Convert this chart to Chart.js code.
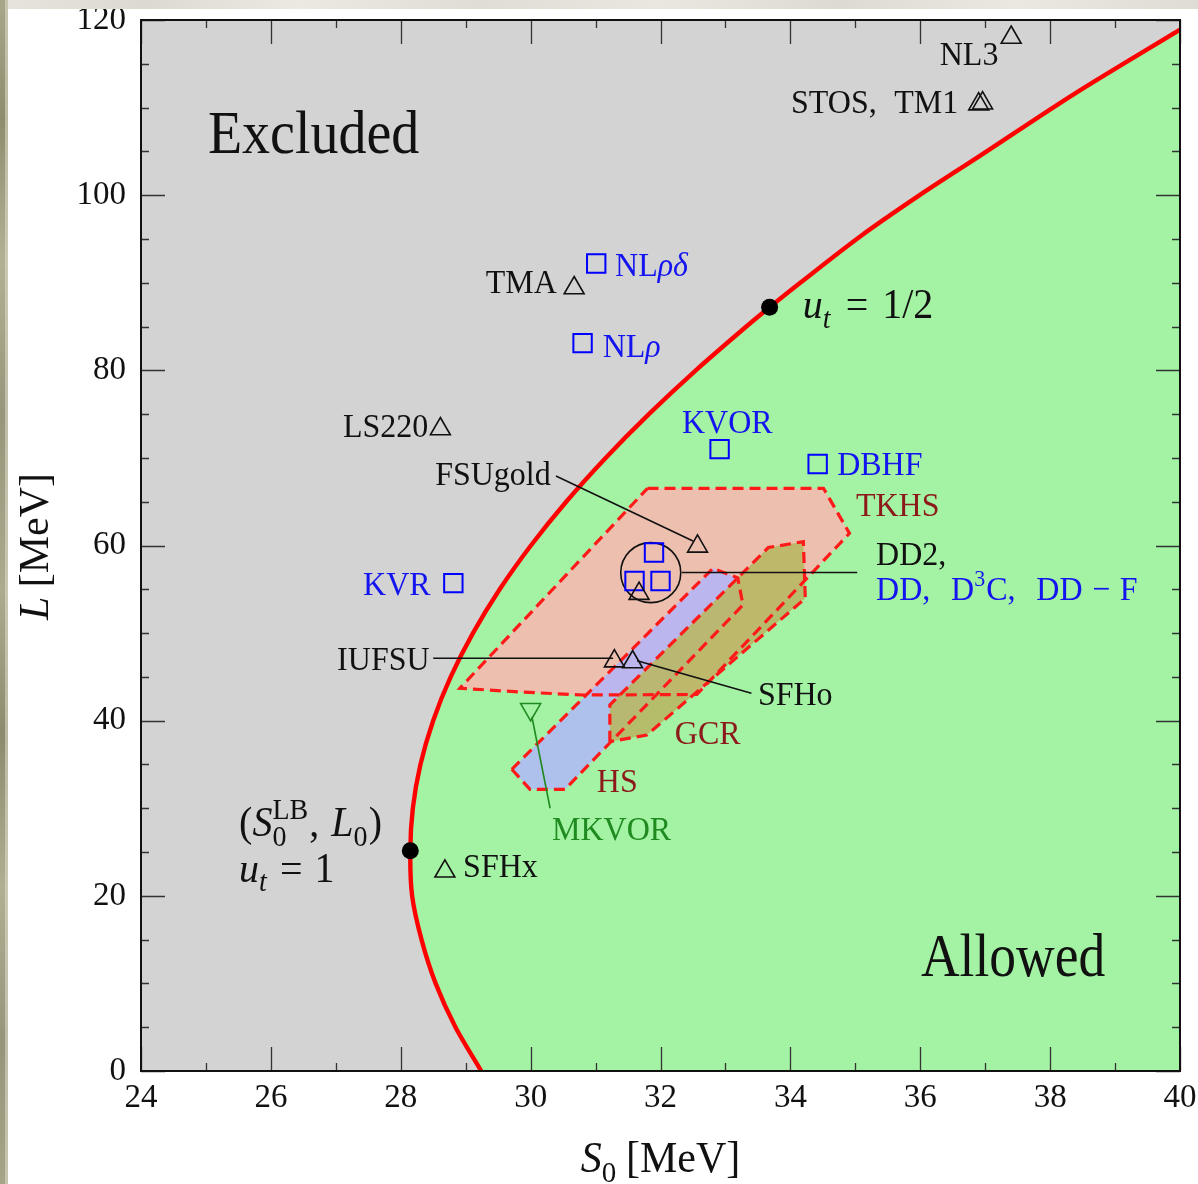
<!DOCTYPE html>
<html>
<head>
<meta charset="utf-8">
<script src="https://cdn.jsdelivr.net/npm/chart.js@4.4.0/dist/chart.umd.min.js"></script>
<style>
html,body{margin:0;padding:0;background:#fff;}
#wrap{position:relative;width:1198px;height:1184px;overflow:hidden;background:#fff;}
#c{position:absolute;left:0;top:0;}
#bt{position:absolute;left:0;top:0;width:1198px;height:9px;
 background:linear-gradient(90deg,#e6e4dc 0%,#dcdad0 12%,#ebe9e2 25%,#dfddd4 40%,#e9e7df 55%,#dddbd1 70%,#eae8e1 85%,#dedcd3 100%);}
#bl{position:absolute;left:0;top:0;width:8px;height:1184px;
 background:linear-gradient(180deg,#a9a78a 0%,#8f8d6e 10%,#b3b195 22%,#97957a 35%,#adab8f 50%,#8d8b6d 62%,#b1af93 75%,#96947a 88%,#a7a588 100%);}
#bl2{position:absolute;left:5px;top:0;width:3px;height:1184px;background:rgba(225,222,205,0.55);}
</style>
</head>
<body>
<div id="wrap">
<canvas id="c" width="1198" height="1184"></canvas>
<div id="bt"></div><div id="bl"></div><div id="bl2"></div>
</div>
<script>
// ---------------- data ----------------
const xTickValues = [24, 26, 28, 30, 32, 34, 36, 38, 40];
const yTickValues = [0, 20, 40, 60, 80, 100, 120];
const xTickLabels = ['24','26','28','30','32','34','36','38','40'];
const yTickLabels = ['0','20','40','60','80','100','120'];

// unitary-gas bound: boundary of the excluded region
const boundaryS0 = [29.24, 28.843, 28.537, 28.320, 28.175, 28.147, 28.186, 28.303, 28.499, 28.769, 29.112, 29.524, 30.004, 30.548, 31.155, 31.821, 32.544, 33.322, 33.680, 34.152, 35.070, 35.990, 36.900, 38.380, 40.000];
const boundaryL  = [0,     5,      10,     15,     20,     25.15,  30,     35,     40,     45,     50,     55,     60,     65,     70,     75,     80,     85,     87.2,   90,     95.26,  100,    104.4,  111.6,  118.9];

// constraint regions
const tkhsS0 = [31.80, 34.51, 34.91, 32.56, 30.81, 29.84, 28.91, 31.80];
const tkhsL  = [66.53, 66.53, 61.39, 42.99, 42.93, 43.27, 43.70, 66.53];
const hsS0   = [29.71, 29.99, 30.53, 33.27, 33.19, 32.81, 29.71];
const hsL    = [34.45, 32.16, 32.16, 53.21, 56.29, 57.40, 34.45];
const gcrS0  = [31.22, 31.22, 33.66, 34.20, 34.23, 31.79, 31.22];
const gcrL   = [37.60, 41.79, 59.77, 60.44, 53.97, 38.36, 37.60];

// models
const triNames = ['NL3','STOS','TM1','TMA','LS220','FSUgold','DD2','IUFSU','SFHo','SFHx'];
const triS0 = [37.40, 36.90, 36.96, 30.67, 28.61, 32.57, 31.67, 31.29, 31.57, 28.68];
const triL  = [118.0, 110.4, 110.5, 89.4,  73.3,  59.9,  54.5,  46.8,  46.7,  22.8];
const sqNames = ['NLρδ','NLρ','KVOR','DBHF','KVR','DD','D3C','DD-F'];
const sqS0 = [31.01, 30.80, 32.91, 34.42, 28.81, 31.90, 31.60, 32.00];
const sqL  = [92.2,  83.1,  71.0,  69.3,  55.7,  59.2,  55.95, 55.95];
const mkvorS0 = [30.0];
const mkvorL  = [41.3];
const utS0 = [28.147, 33.68];    // u_t = 1, u_t = 1/2
const utL  = [25.15, 87.2];
const groupS0 = [31.85];         // circled DD2/DD/D3C/DD-F group
const groupL  = [56.9];

// leader lines
const leadFSUs = [30.39, 32.50], leadFSUl = [67.94, 60.52];
const leadDDs  = [32.33, 35.03], leadDDl  = [56.92, 56.92];
const leadIUs  = [28.50, 31.27], leadIUl  = [47.12, 47.12];
const leadSFs  = [31.64, 33.40], leadSFl  = [46.85, 43.13];
const leadMKs  = [30.02, 30.30], leadMKl  = [40.45, 30.0];

// ---------------- styling ----------------
const FAMILY = "'Liberation Serif','Times New Roman',serif";
const BLUE = '#1414f0', DRED = '#8c1a1a', GREEN = '#1f8a1f';
const pts = (xs, ys) => xs.map((v, i) => ({x: v, y: ys[i]}));

const annotations = [
 {s:25.03, l:104.8, size:56, segs:[{t:'Excluded'}]},
 {s:36.01, l:10.85, size:53.5, st:1.13, segs:[{t:'Allowed'}]},
 {s:36.30, l:114.9, segs:[{t:'NL3'}]},
 {s:34.01, l:109.4, segs:[{t:'STOS,'},{gap:0.55},{t:'TM1'}]},
 {s:29.31, l:88.8,  segs:[{t:'TMA'}]},
 {s:31.30, l:90.8,  c:BLUE, segs:[{t:'NL'},{t:'ρδ',i:true}]},
 {s:31.11, l:81.5,  c:BLUE, segs:[{t:'NL'},{t:'ρ',i:true}]},
 {s:32.33, l:72.85, c:BLUE, segs:[{t:'KVOR'}]},
 {s:34.72, l:68.05, c:BLUE, segs:[{t:'DBHF'}]},
 {s:35.01, l:63.4,  c:DRED, segs:[{t:'TKHS'}]},
 {s:35.32, l:57.8,  segs:[{t:'DD2,'}]},
 {s:35.32, l:53.8,  c:BLUE, segs:[{t:'DD,'},{gap:0.65},{t:'D'},{sup:'3'},{t:'C,'},{gap:0.65},{t:'DD'},{gap:0.3},{t:'−'},{gap:0.3},{t:'F'}]},
 {s:27.11, l:72.4,  segs:[{t:'LS220'}]},
 {s:28.53, l:66.9,  segs:[{t:'FSUgold'}]},
 {s:27.42, l:54.35, c:BLUE, segs:[{t:'KVR'}]},
 {s:27.02, l:45.8,  segs:[{t:'IUFSU'}]},
 {s:33.50, l:41.8,  segs:[{t:'SFHo'}]},
 {s:32.22, l:37.3,  c:DRED, segs:[{t:'GCR'}]},
 {s:31.02, l:31.9,  c:DRED, segs:[{t:'HS'}]},
 {s:30.33, l:26.4,  c:GREEN, segs:[{t:'MKVOR'}]},
 {s:28.96, l:22.15, segs:[{t:'SFHx'}]},
 {s:25.51, l:26.83, size:40, segs:[{t:'('},{t:'S',i:true},{sup:'LB',sub:'0'},{t:','},{gap:0.3},{t:'L',i:true},{sub:'0'},{t:')'}]},
 {s:25.51, l:21.58, size:40, segs:[{t:'u',i:true},{sub:'t',subi:true},{gap:0.3},{t:'='},{gap:0.3},{t:'1'}]},
 {s:34.19, l:85.97, size:40, segs:[{t:'u',i:true},{sub:'t',subi:true},{gap:0.35},{t:'='},{gap:0.35},{t:'1/2'}]}
];

function fontStr(size, italic){ return (italic ? 'italic ' : '') + size + 'px ' + FAMILY; }
function layoutSegs(ctx, segs, size){
  let x = 0; const ops = [];
  for (const s of segs){
    if (s.gap !== undefined){ x += s.gap * size; continue; }
    if (s.t !== undefined){
      const f = fontStr(size, s.i); ctx.font = f;
      ops.push({x, y:0, f, t:s.t}); x += ctx.measureText(s.t).width; continue;
    }
    const ss = Math.round(size * 0.7); let w = 0;
    if (s.sup){ const f = fontStr(ss, s.supi); ctx.font = f; ops.push({x, y:-0.4*size, f, t:s.sup}); w = Math.max(w, ctx.measureText(s.sup).width); }
    if (s.sub){ const f = fontStr(ss, s.subi); ctx.font = f; ops.push({x, y:0.22*size, f, t:s.sub}); w = Math.max(w, ctx.measureText(s.sub).width); }
    x += w + 0.03*size;
  }
  return {ops, width:x};
}
function drawRich(ctx, px, py, segs, size, color, align, stretch, rot){
  const L = layoutSegs(ctx, segs, size);
  ctx.save();
  ctx.translate(px, py);
  if (rot) ctx.rotate(rot);
  ctx.scale(1, stretch || 1);
  const off = align === 'center' ? -L.width/2 : (align === 'right' ? -L.width : 0);
  ctx.fillStyle = color; ctx.textBaseline = 'alphabetic'; ctx.textAlign = 'left';
  for (const o of L.ops){ ctx.font = o.f; ctx.fillText(o.t, off + o.x, o.y); }
  ctx.restore();
}

const decor = {
  id: 'decor',
  beforeDraw(chart){
    const {ctx, chartArea:a} = chart;
    ctx.save();
    ctx.fillStyle = '#ffffff'; ctx.fillRect(0, 0, chart.width, chart.height);
    ctx.fillStyle = '#d3d3d3'; ctx.fillRect(a.left, a.top, a.right - a.left, a.bottom - a.top);
    ctx.restore();
  },
  afterDatasetsDraw(chart){
    const {ctx, chartArea:a, scales:{x, y}} = chart;
    ctx.save();
    ctx.strokeStyle = '#333'; ctx.lineWidth = 1.3;
    ctx.beginPath();
    for (let v = 24; v <= 40; v += 1){
      const p = Math.round(x.getPixelForValue(v)) + 0.5;
      const len = (v % 2 === 0) ? 24 : 8;
      ctx.moveTo(p, a.bottom); ctx.lineTo(p, a.bottom - len);
      ctx.moveTo(p, a.top); ctx.lineTo(p, a.top + len);
    }
    for (let v = 0; v <= 120; v += 5){
      const p = Math.round(y.getPixelForValue(v)) + 0.5;
      const len = (v % 20 === 0) ? 24 : 8;
      ctx.moveTo(a.left, p); ctx.lineTo(a.left + len, p);
      ctx.moveTo(a.right, p); ctx.lineTo(a.right - len, p);
    }
    ctx.stroke();
    ctx.strokeStyle = '#111'; ctx.lineWidth = 2;
    ctx.strokeRect(a.left, a.top, a.right - a.left, a.bottom - a.top);
    ctx.restore();
    for (const an of annotations){
      drawRich(ctx, x.getPixelForValue(an.s), y.getPixelForValue(an.l), an.segs,
               an.size || 32, an.c || '#111', 'left', an.st || 1.08);
    }
    drawRich(ctx, (a.left + a.right)/2, a.bottom + 101,
             [{t:'S', i:true},{sub:'0'},{gap:0.2},{t:'[MeV]'}], 42, '#111', 'center', 1.05);
    drawRich(ctx, a.left - 93, (a.top + a.bottom)/2 + 1,
             [{t:'L', i:true},{gap:0.22},{t:'[MeV]'}], 42, '#111', 'center', 1.0, -Math.PI/2);
  }
};

const fillOnly = {showLine:true, pointRadius:0, borderWidth:0, borderColor:'rgba(0,0,0,0)', tension:0, fill:'shape'};
const outline  = {showLine:true, pointRadius:0, borderColor:'#ff1a1a', borderWidth:3.2, borderDash:[11,6], tension:0, fill:false, backgroundColor:'rgba(0,0,0,0)'};

new Chart(document.getElementById('c'), {
  type: 'scatter',
  data: {
    datasets: [
      Object.assign({label:'allowed', data: pts(boundaryS0.concat([40, 29.24]), boundaryL.concat([0, 0])), backgroundColor:'#a4f3a4', order:100}, fillOnly),
      Object.assign({label:'TKHS fill', data: pts(tkhsS0, tkhsL), backgroundColor:'rgba(255,178,177,0.8)', order:95}, fillOnly),
      Object.assign({label:'HS fill', data: pts(hsS0, hsL), backgroundColor:'rgba(176,180,253,0.81)', order:94}, fillOnly),
      Object.assign({label:'GCR fill', data: pts(gcrS0, gcrL), backgroundColor:'rgba(184,183,100,0.9)', order:93}, fillOnly),
      Object.assign({label:'TKHS', data: pts(tkhsS0, tkhsL), order:85}, outline),
      Object.assign({label:'HS', data: pts(hsS0, hsL), order:84}, outline),
      Object.assign({label:'GCR', data: pts(gcrS0, gcrL), order:83}, outline),
      {label:'bound', data: pts(boundaryS0, boundaryL), showLine:true, pointRadius:0, borderColor:'#ff0000', borderWidth:4.4, tension:0.3, fill:false, order:60},
      {label:'lFSU', data: pts(leadFSUs, leadFSUl), showLine:true, pointRadius:0, borderColor:'#111', borderWidth:1.6, order:50},
      {label:'lDD', data: pts(leadDDs, leadDDl), showLine:true, pointRadius:0, borderColor:'#111', borderWidth:1.6, order:50},
      {label:'lIU', data: pts(leadIUs, leadIUl), showLine:true, pointRadius:0, borderColor:'#111', borderWidth:1.6, order:50},
      {label:'lSF', data: pts(leadSFs, leadSFl), showLine:true, pointRadius:0, borderColor:'#111', borderWidth:1.6, order:50},
      {label:'lMK', data: pts(leadMKs, leadMKl), showLine:true, pointRadius:0, borderColor:GREEN, borderWidth:1.6, order:50},
      {label:'group', data: pts(groupS0, groupL), pointStyle:'circle', pointRadius:30, backgroundColor:'rgba(0,0,0,0)', borderColor:'#111', borderWidth:1.6, order:40},
      {label:'triangles', data: pts(triS0, triL), pointStyle:'triangle', pointRadius:11.5, backgroundColor:'rgba(0,0,0,0)', borderColor:'#111', borderWidth:1.6, order:30},
      {label:'squares', data: pts(sqS0, sqL), pointStyle:'rect', pointRadius:13, backgroundColor:'rgba(0,0,0,0)', borderColor:'#0000ff', borderWidth:2, order:30},
      {label:'MKVOR', data: pts(mkvorS0, mkvorL), pointStyle:'triangle', rotation:180, pointRadius:11.5, backgroundColor:'rgba(0,0,0,0)', borderColor:GREEN, borderWidth:1.6, order:30},
      {label:'ut', data: pts(utS0, utL), pointStyle:'circle', pointRadius:8.5, backgroundColor:'#000', borderColor:'#000', borderWidth:0, order:20}
    ]
  },
  options: {
    responsive:false, animation:false, devicePixelRatio:1, events:[],
    layout:{autoPadding:false, padding:{top:20, right:18, left:0, bottom:0}},
    plugins:{legend:{display:false}, tooltip:{enabled:false}},
    scales:{
      x:{type:'linear', min:24, max:40,
         afterBuildTicks(s){ s.ticks = xTickValues.map(v => ({value:v})); },
         ticks:{callback:(v) => xTickLabels[xTickValues.indexOf(v)], font:{family:FAMILY, size:33}, color:'#111', padding:8, maxRotation:0, autoSkip:false},
         grid:{display:false, drawTicks:false}, border:{display:false},
         afterFit(s){ s.height = 113; s.paddingLeft = 0; s.paddingRight = 0; s.paddingTop = 0; s.paddingBottom = 0; }},
      y:{type:'linear', min:0, max:120,
         afterBuildTicks(s){ s.ticks = yTickValues.map(v => ({value:v})); },
         ticks:{callback:(v) => yTickLabels[yTickValues.indexOf(v)], font:{family:FAMILY, size:33}, color:'#111', padding:15, autoSkip:false},
         grid:{display:false, drawTicks:false}, border:{display:false},
         afterFit(s){ s.width = 141; s.paddingLeft = 0; s.paddingRight = 0; s.paddingTop = 0; s.paddingBottom = 0; }}
    }
  },
  plugins:[decor]
});
</script>
</body>
</html>
